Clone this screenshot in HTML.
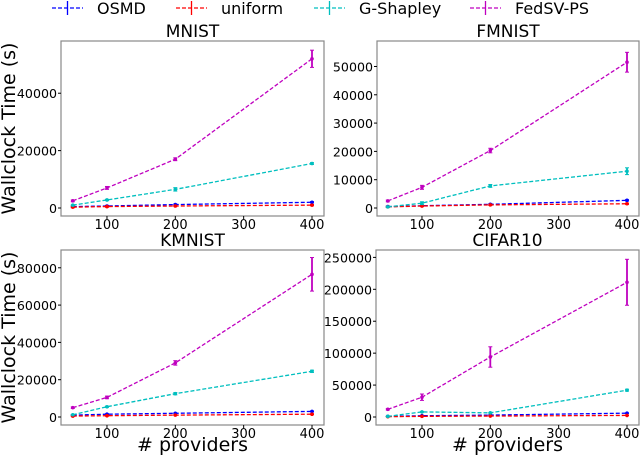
<!DOCTYPE html>
<html><head><meta charset="utf-8"><style>
body{margin:0;background:#fff;width:640px;height:458px;overflow:hidden;font-family:"DejaVu Sans","Liberation Sans",sans-serif}
</style></head><body>
<svg id="fig" width="640" height="458" xmlns="http://www.w3.org/2000/svg" font-family="DejaVu Sans, Liberation Sans, sans-serif"></svg>
<script>
const providers=[50,100,200,400];
const xTicks=[100,200,300,400];
const seriesNames=["OSMD","uniform","G-Shapley","FedSV-PS"];
const seriesColors=["#0000ff","#ff0000","#00bfbf","#bf00bf"];
const mnistOSMD=[500,700,1200,2000],mnistUniform=[300,500,700,1000],mnistG=[1000,2800,6500,15500],mnistF=[2500,7000,17000,52000];
const mnistFErr=[300,500,500,3000],mnistGErr=[100,200,600,300];
const fmnistOSMD=[500,800,1300,2700],fmnistUniform=[400,700,1100,1500],fmnistG=[400,1700,7800,13000],fmnistF=[2500,7300,20300,51500];
const fmnistFErr=[300,700,800,3500],fmnistGErr=[100,500,500,1200];
const kmnistOSMD=[1000,1500,2000,3000],kmnistUniform=[500,700,1000,1500],kmnistG=[1200,5500,12500,24500],kmnistF=[5000,10500,29000,76500];
const kmnistFErr=[400,700,1200,9000],kmnistGErr=[100,300,600,600];
const cifarOSMD=[1000,2000,3000,6000],cifarUniform=[500,1000,1500,2500],cifarG=[1000,8000,6500,42000],cifarF=[12000,31000,94000,211000];
const cifarFErr=[1000,5000,16000,36000],cifarGErr=[200,500,500,1500];
const mnistYTicks=[0,20000,40000],fmnistYTicks=[0,10000,20000,30000,40000,50000],kmnistYTicks=[0,20000,40000,60000,80000],cifarYTicks=[0,50000,100000,150000,200000,250000];

const NS="http://www.w3.org/2000/svg";
const svg=document.getElementById('fig');
function mk(t,a,p){const e=document.createElementNS(NS,t);for(const k in a)e.setAttribute(k,a[k]);(p||svg).appendChild(e);return e;}

const panels=[
 {name:"mnist",title:"MNIST",box:[61,41,324,216],x0:72.8,x1:312,ymax:58200,y0:208,yTop:41,series:[mnistOSMD,mnistUniform,mnistG,mnistF],errs:[null,null,mnistGErr,mnistFErr],yt:mnistYTicks,ylabel:true,xlabel:false},
 {name:"fmnist",title:"FMNIST",box:[377,41,639,216],x0:387.8,x1:627,ymax:59000,y0:208,yTop:41,series:[fmnistOSMD,fmnistUniform,fmnistG,fmnistF],errs:[null,null,fmnistGErr,fmnistFErr],yt:fmnistYTicks,ylabel:false,xlabel:false},
 {name:"kmnist",title:"KMNIST",box:[61,250,324,425],x0:72.8,x1:312,ymax:89000,y0:417,yTop:251,series:[kmnistOSMD,kmnistUniform,kmnistG,kmnistF],errs:[null,null,kmnistGErr,kmnistFErr],yt:kmnistYTicks,ylabel:true,xlabel:true},
 {name:"cifar10",title:"CIFAR10",box:[376,250,639,425],x0:387.8,x1:627,ymax:260000,y0:417,yTop:251,series:[cifarOSMD,cifarUniform,cifarG,cifarF],errs:[null,null,cifarGErr,cifarFErr],yt:cifarYTicks,ylabel:false,xlabel:true}
];
panels.forEach(p=>{
 const g=mk('g',{});
 
 
 const [L,T,R,B]=p.box;
 const xs=v=>p.x0+(v-50)/350*(p.x1-p.x0);
 const ys=v=>p.y0-v/p.ymax*(p.y0-p.yTop);
 const fr=mk('rect',{x:L,y:T,width:R-L,height:B-T,fill:'none',stroke:'#888','stroke-width':1.2},g);
 
 const t=mk('text',{x:(L+R)/2,y:T-4,'text-anchor':'middle','font-size':17},g);t.textContent=p.title;
 
 xTicks.forEach(v=>{mk('line',{x1:xs(v),x2:xs(v),y1:B,y2:B+3,stroke:'#000'},g);
  const tx=mk('text',{x:xs(v),y:B+13,'text-anchor':'middle','font-size':13},g);tx.textContent=v;
  });
 p.yt.forEach(v=>{mk('line',{x1:L-3,x2:L,y1:ys(v),y2:ys(v),stroke:'#000'},g);
  const ty=mk('text',{x:L-4,y:ys(v)+5,'text-anchor':'end','font-size':12.6},g);ty.textContent=v;
  });
 p.series.forEach((s,i)=>{
  const c=seriesColors[i];
  const pl=mk('polyline',{points:s.map((v,j)=>xs(providers[j])+','+ys(v)).join(' '),fill:'none',stroke:c,'stroke-width':1.3,'stroke-dasharray':'4,2'},g);
  
  s.forEach((v,j)=>{
   const x=xs(providers[j]);
   const e=p.errs[i]?p.errs[i][j]:200;
   mk('line',{x1:x,x2:x,y1:ys(v-e),y2:ys(v+e),stroke:c,'stroke-width':1.8},g);
   mk('line',{x1:x-2,x2:x+2,y1:ys(v-e),y2:ys(v-e),stroke:c},g);
   mk('line',{x1:x-2,x2:x+2,y1:ys(v+e),y2:ys(v+e),stroke:c},g);
   const m=mk('circle',{cx:x,cy:ys(v),r:1.8,fill:c},g);
   
  });
 });
 if(p.ylabel){const yl=mk('text',{x:0,y:0,'text-anchor':'middle','font-size':19,transform:`translate(15,${(T+B)/2}) rotate(-90)`},g);yl.textContent='Wallclock Time (s)';
  }
 if(p.xlabel){const xl=mk('text',{x:(L+R)/2,y:451,'text-anchor':'middle','font-size':19},g);xl.textContent='# providers';
  }
});
const legX=[52,176,314,470];
seriesNames.forEach((n,i)=>{
 const g=mk('g',{});
 
 
 const x=legX[i],c=seriesColors[i];
 mk('line',{x1:x,x2:x+31,y1:8,y2:8,stroke:c,'stroke-width':1.3,'stroke-dasharray':'4,2'},g);
 mk('line',{x1:x+15.5,x2:x+15.5,y1:1,y2:15,stroke:c,'stroke-width':1.3},g);
 const t=mk('text',{x:x+45,y:14,'font-size':16},g);t.textContent=n;
});
</script>
</body></html>
